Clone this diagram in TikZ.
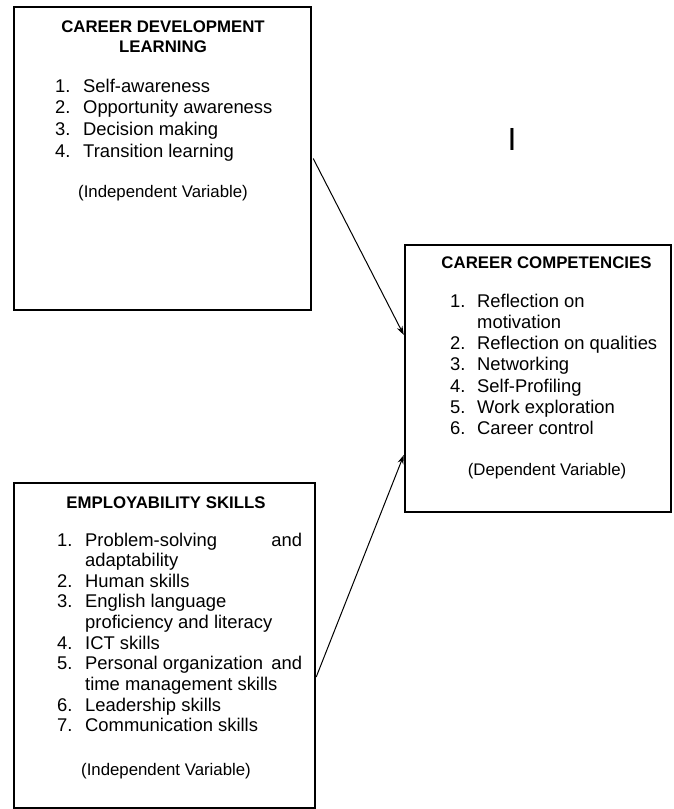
\documentclass[tikz,border=0pt]{standalone}
\usepackage{fontspec}
\setmainfont{Liberation Sans}
\usetikzlibrary{arrows.meta}
\newcommand{\hdfont}{\fontsize{16.8}{20}\selectfont\bfseries}
\newcommand{\varfont}{\fontsize{16.8}{20}\selectfont}
\begin{document}
\begin{tikzpicture}[x=1pt,y=-1pt,
  box/.style={draw=black,line width=2.4pt,rectangle,inner sep=0pt},
  head/.style={anchor=base,inner sep=0pt,font=\hdfont},
  varlbl/.style={anchor=base,inner sep=0pt,font=\varfont},
  items/.style={anchor=base west,inner sep=0pt},
  conn/.style={line width=1pt,-{Stealth[length=9pt,width=6pt]}}]
\useasboundingbox (0,0) rectangle (673,809);
% boxes
\node[box,minimum width=297pt,minimum height=303pt] (cdl) at (162.5,158.5) {};
\node[box,minimum width=266pt,minimum height=267pt] (cc) at (538,378.5) {};
\node[box,minimum width=301pt,minimum height=325pt] (es) at (164.5,645.5) {};
% box 1 text
\node[head] (cdlh) at (163,32) {\begin{tabular}[t]{@{}c@{}}CAREER DEVELOPMENT\\LEARNING\end{tabular}};
\node[items] (cdli) at (55,92) {\fontsize{18.4}{21.7}\selectfont
  \begin{tabular}[t]{@{}p{28pt}@{}l@{}}
  1. & Self-awareness\\
  2. & Opportunity awareness\\
  3. & Decision making\\
  4. & Transition learning
  \end{tabular}};
\node[varlbl] (cdlv) at (163,197) {(Independent Variable)};
% box 2 text
\node[head] (cch) at (546.5,268) {CAREER COMPETENCIES};
\node[items] (cci) at (450,307) {\fontsize{18.4}{21.3}\selectfont
  \begin{tabular}[t]{@{}p{27pt}@{}l@{}}
  1. & Reflection on\\
     & motivation\\
  2. & Reflection on qualities\\
  3. & Networking\\
  4. & Self-Profiling\\
  5. & Work exploration\\
  6. & Career control
  \end{tabular}};
\node[varlbl] (ccv) at (547,475) {(Dependent Variable)};
% box 3 text
\node[head] (esh) at (166,508) {EMPLOYABILITY SKILLS};
\node[items] (esi) at (57,546) {\fontsize{18.4}{20.65}\selectfont
  \begin{tabular}[t]{@{}p{28pt}@{}l@{}}
  1. & \makebox[217pt][l]{Problem-solving\hfill and}\\
     & adaptability\\
  2. & Human skills\\
  3. & English language\\
     & proficiency and literacy\\
  4. & ICT skills\\
  5. & \makebox[217pt][l]{Personal organization\hfill and}\\
     & time management skills\\
  6. & Leadership skills\\
  7. & Communication skills
  \end{tabular}};
\node[varlbl] (esv) at (166,775) {(Independent Variable)};
% stray mark
\node[anchor=base,inner sep=0pt,font=\fontsize{32}{32}\selectfont] (mark) at (512,150) {I};
% connectors
\draw[conn] ([xshift=1pt]cdl.east) -- ([yshift=43.5pt]cc.west);
\draw[conn] ([yshift=-31.5pt]es.east) -- ([yshift=-76.5pt]cc.west);
\end{tikzpicture}
\end{document}
